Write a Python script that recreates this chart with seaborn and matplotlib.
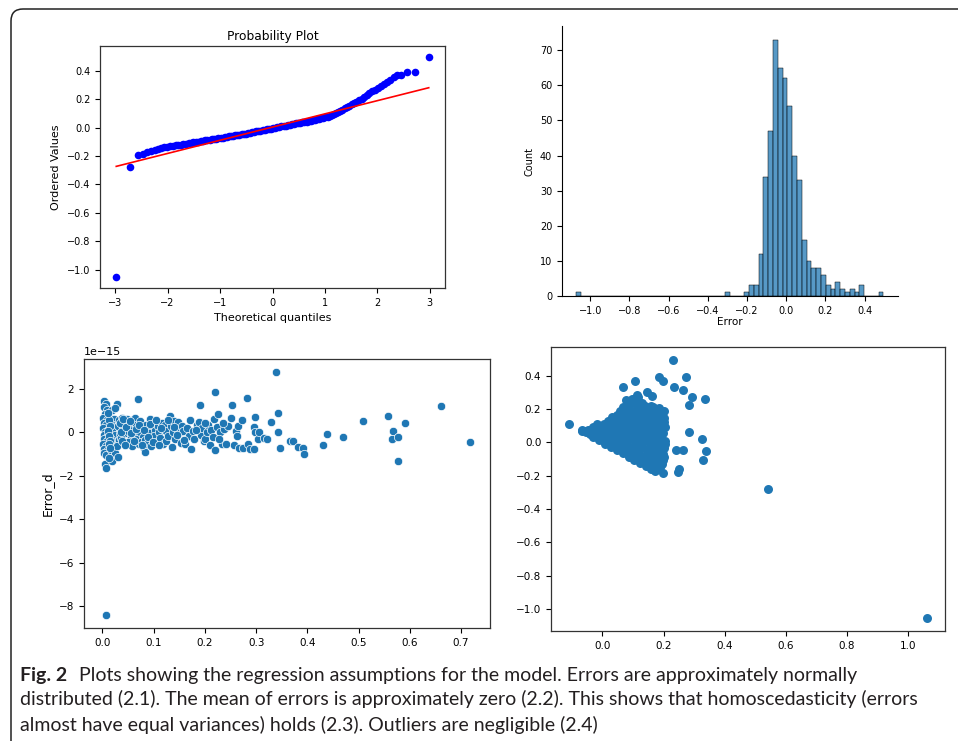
import numpy as np
import matplotlib.pyplot as plt
from matplotlib.patches import FancyBboxPatch
from matplotlib.transforms import IdentityTransform
import seaborn as sns

# ---------------- Data ----------------
# (2.1) probability plot: theoretical quantiles vs ordered residuals
qq_theoretical = [-2.98, -2.71, -2.57, -2.47, -2.39, -2.31, -2.24, -2.18, -2.12, -2.06,
                  -2.01, -1.95, -1.90, -1.85, -1.80, -1.75, -1.70, -1.65, -1.60, -1.55,
                  -1.51, -1.46, -1.42, -1.37, -1.33, -1.28, -1.24, -1.20, -1.16, -1.11,
                  -1.07, -1.03, -0.99, -0.95, -0.91, -0.87, -0.83, -0.79, -0.75, -0.71,
                  -0.67, -0.63, -0.59, -0.55, -0.51, -0.47, -0.43, -0.39, -0.35, -0.31,
                  -0.27, -0.23, -0.19, -0.15, -0.11, -0.07, -0.03, 0.01, 0.05, 0.09,
                  0.13, 0.17, 0.21, 0.25, 0.29, 0.33, 0.37, 0.41, 0.45, 0.49,
                  0.53, 0.57, 0.61, 0.65, 0.69, 0.73, 0.77, 0.81, 0.85, 0.89,
                  0.93, 0.97, 1.01, 1.05, 1.09, 1.13, 1.17, 1.21, 1.25, 1.29,
                  1.33, 1.38, 1.42, 1.46, 1.51, 1.55, 1.60, 1.65, 1.70, 1.75,
                  1.80, 1.85, 1.90, 1.95, 2.01, 2.06, 2.12, 2.18, 2.24, 2.31,
                  2.38, 2.46, 2.56, 2.72, 2.98]
qq_ordered = [-1.050, -0.280, -0.190, -0.183, -0.175, -0.166, -0.158, -0.152, -0.146, -0.140,
              -0.135, -0.131, -0.128, -0.125, -0.122, -0.119, -0.116, -0.112, -0.109, -0.106,
              -0.103, -0.100, -0.098, -0.095, -0.093, -0.090, -0.088, -0.085, -0.083, -0.080,
              -0.077, -0.075, -0.072, -0.070, -0.067, -0.065, -0.062, -0.060, -0.057, -0.055,
              -0.052, -0.050, -0.047, -0.045, -0.042, -0.039, -0.036, -0.033, -0.030, -0.027,
              -0.024, -0.021, -0.018, -0.015, -0.012, -0.010, -0.007, -0.004, -0.001, 0.002,
              0.005, 0.008, 0.011, 0.014, 0.017, 0.020, 0.023, 0.026, 0.029, 0.031,
              0.034, 0.037, 0.040, 0.043, 0.046, 0.049, 0.052, 0.055, 0.058, 0.061,
              0.065, 0.069, 0.073, 0.078, 0.084, 0.090, 0.097, 0.104, 0.112, 0.119,
              0.127, 0.137, 0.145, 0.153, 0.163, 0.172, 0.183, 0.194, 0.205, 0.216,
              0.228, 0.242, 0.256, 0.268, 0.282, 0.296, 0.310, 0.324, 0.338, 0.355,
              0.372, 0.372, 0.392, 0.392, 0.495]
qq_fit_x = [-2.98, 2.98]
qq_fit_y = [-0.273, 0.281]

# (2.2) histogram of errors: bin centres and counts of the non-empty bins
hist_centers = [-1.060, -0.301, -0.203, -0.178, -0.154, -0.129, -0.105, -0.080, -0.056, -0.031,
                -0.007, 0.018, 0.042, 0.067, 0.091, 0.116, 0.140, 0.165, 0.189, 0.214,
                0.238, 0.263, 0.287, 0.312, 0.336, 0.361, 0.385, 0.483]
hist_counts = [1, 1, 1, 3, 3, 12, 34, 47, 73, 65,
               62, 54, 40, 33, 16, 10, 8, 8, 6, 3,
               2, 4, 2, 1, 2, 1, 3, 1]
hist_range = (-1.0725, 0.4955)
hist_bins = 64

# (2.3) Error_d against fitted value (y in units of 1e-15)
homo_x = [0.004, 0.006, 0.003, 0.008, 0.005, 0.002, 0.009, 0.004, 0.007, 0.002, 0.010, 0.005, 0.003,
          0.008, 0.004, 0.009, 0.002, 0.006, 0.004, 0.008, 0.003, 0.007, 0.005, 0.006, 0.007,
          0.018, 0.022, 0.016, 0.026, 0.019, 0.024, 0.017, 0.027, 0.021, 0.016, 0.025, 0.019,
          0.028, 0.025, 0.030, 0.033, 0.031, 0.034, 0.032, 0.029,
          0.038, 0.042, 0.040, 0.045, 0.037, 0.043, 0.048, 0.052, 0.050, 0.055, 0.049, 0.057,
          0.058, 0.060,
          0.063, 0.066, 0.069, 0.064, 0.068, 0.071, 0.074, 0.077, 0.073, 0.079, 0.076, 0.081,
          0.084, 0.085, 0.088, 0.083, 0.087,
          0.092, 0.095, 0.091, 0.097, 0.094, 0.100, 0.103, 0.101, 0.106, 0.108, 0.111, 0.113,
          0.116, 0.118, 0.119,
          0.122, 0.125, 0.124, 0.128, 0.131, 0.133, 0.135, 0.137, 0.140, 0.142, 0.146, 0.148,
          0.152, 0.154, 0.156, 0.158,
          0.162, 0.165, 0.168, 0.170, 0.173, 0.176, 0.179, 0.185, 0.188, 0.190, 0.192, 0.195,
          0.198,
          0.201, 0.204, 0.207, 0.209, 0.212, 0.215, 0.217, 0.220, 0.220, 0.223, 0.226, 0.230,
          0.234, 0.238, 0.241, 0.245,
          0.250, 0.253, 0.257, 0.260, 0.262, 0.264, 0.267, 0.273, 0.274, 0.282, 0.284, 0.289,
          0.296, 0.297, 0.297, 0.296,
          0.303, 0.305, 0.316, 0.321, 0.329, 0.338, 0.343, 0.343, 0.347, 0.366, 0.371, 0.381,
          0.392, 0.394, 0.430, 0.438, 0.470, 0.508, 0.557, 0.565, 0.567, 0.576, 0.576, 0.591,
          0.661, 0.718,
          0.012, 0.014, 0.011, 0.013, 0.015, 0.012, 0.014, 0.011, 0.013,
          0.036, 0.039, 0.035, 0.041, 0.046, 0.044, 0.053, 0.056, 0.062, 0.065,
          0.072, 0.078, 0.082, 0.089, 0.093, 0.098, 0.104, 0.110, 0.115, 0.127,
          0.139, 0.145, 0.160, 0.183, 0.200, 0.228, 0.236]
homo_err = [1.45, 1.30, 1.18, 1.02, 0.85, 0.68, 0.58, 0.45, 0.32, 0.20, 0.12, 0.02, -0.10,
            -0.20, -0.32, -0.42, -0.52, -0.62, -0.75, -0.86, -0.95, -1.05, -1.45, -1.62, -8.37,
            1.02, 0.62, 0.40, 0.25, 0.05, -0.12, -0.30, -0.45, -0.60, -0.80, -0.95, -1.30,
            1.30, 1.14, -1.15, 0.55, 0.30, -0.08, -0.35, -0.62,
            0.68, 0.42, 0.15, -0.02, -0.25, -0.50, 0.60, 0.30, 0.05, -0.20, -0.45, -0.62,
            0.55, 0.12,
            0.65, 0.35, 1.54, -0.05, -0.30, -0.55, 0.50, 0.20, 0.00, -0.20, -0.45, -0.70,
            -0.91, 0.35, 0.05, -0.35, -0.55,
            0.60, 0.25, -0.05, -0.30, -0.62, 0.45, 0.10, -0.15, -0.45, 0.30, 0.00, -0.25,
            0.45, -0.55, 0.15,
            0.35, 0.05, -0.40, -0.15, 0.76, 0.30, -0.66, 0.00, 0.50, -0.30, 0.20, 0.47,
            0.00, -0.50, 0.30, 0.05,
            -0.53, 0.20, -0.15, 0.55, -0.76, 0.05, -0.30, 0.35, 0.47, 1.27, -0.10, 0.20,
            -0.40,
            -0.32, 0.00, 0.35, -0.56, 0.10, -0.20, 0.61, -0.82, 1.87, 0.25, 0.84, 0.02,
            -0.52, 0.15, -0.53, 0.30,
            0.65, 1.27, -0.56, 0.05, -0.17, 0.30, -0.70, 0.58, -0.72, 1.60, -0.53, -0.76,
            0.26, 0.69, 0.00, -0.78,
            -0.29, 0.03, -0.27, -0.32, 0.46, 2.79, 0.87, 0.02, -0.72, -0.38, -0.38, -0.66,
            -0.72, -0.98, -0.59, -0.08, -0.20, 0.53, 0.76, -0.32, 0.08, -0.20, -1.33, 0.43,
            1.20, -0.43,
            0.55, 0.30, 0.08, -0.15, -0.38, -0.55, -0.70, 0.90, -1.20,
            0.00, -0.40, 0.45, 0.60, 0.25, -0.60, 0.50, -0.05, -0.40, 0.15,
            0.35, -0.60, 0.10, -0.20, 0.40, -0.45, 0.55, -0.60, 0.20, 0.55,
            0.25, -0.10, -0.35, 0.10, 0.45, -0.30, 0.45]
ERR_UNIT = 1e-15

# (2.4) residual against leverage-like measure
out_x = [-0.109, -0.068, -0.053, 0.542, 1.062, 0.230, 0.272, 0.186, 0.199, 0.107, 0.069, 0.234,
         0.265, 0.292, 0.284, 0.334, 0.145, 0.161, 0.112, 0.080, 0.049, 0.284, 0.326, 0.339,
         0.330, 0.241, 0.265, 0.249, 0.246, 0.198, 0.172, 0.195, 0.195, 0.164,
         0.078, 0.098, 0.118, 0.108,
         0.066, 0.088, 0.112, 0.138, 0.158, 0.186, 0.200,
         0.047, 0.072, 0.097, 0.121, 0.146, 0.171, 0.196,
         0.018, 0.041, 0.063, 0.089, 0.113, 0.139, 0.163, 0.188, 0.203,
         -0.032, -0.008, 0.016, 0.039, 0.064, 0.087, 0.112, 0.136, 0.161, 0.184, 0.204,
         -0.066, -0.058, -0.040, -0.018, 0.006, 0.029, 0.053, 0.078, 0.101, 0.126, 0.149, 0.174, 0.198,
         -0.012, 0.009, 0.033, 0.058, 0.082, 0.107, 0.131, 0.156, 0.181, 0.206,
         0.028, 0.052, 0.077, 0.101, 0.126, 0.151, 0.176, 0.203,
         0.067, 0.091, 0.116, 0.141, 0.166, 0.198,
         0.103, 0.127, 0.152, 0.178, 0.199,
         0.142, 0.164, 0.188, 0.172,
         0.088, 0.128,
         0.058, 0.082, 0.108, 0.133, 0.158, 0.183,
         0.032, 0.054, 0.077, 0.101, 0.126, 0.151, 0.176, 0.200,
         -0.018, 0.004, 0.028, 0.052, 0.076, 0.100, 0.124, 0.149, 0.173, 0.195,
         -0.047, -0.022, 0.002, 0.026, 0.050, 0.074, 0.098, 0.122, 0.146, 0.170, 0.193,
         -0.030, -0.004, 0.020, 0.045, 0.070, 0.094, 0.118, 0.143, 0.168, 0.192,
         0.008, 0.032, 0.057, 0.081, 0.105, 0.130, 0.155, 0.180, 0.204,
         0.048, 0.072, 0.096, 0.121, 0.146, 0.171, 0.196,
         0.086, 0.110, 0.135, 0.160, 0.184, 0.203,
         0.124, 0.148, 0.172, 0.195,
         0.158, 0.178]
out_y = [0.110, 0.070, 0.064, -0.280, -1.056, 0.494, 0.392, 0.392, 0.370, 0.370, 0.330, 0.334,
         0.312, 0.270, 0.224, 0.258, 0.300, 0.278, 0.284, 0.244, 0.158, 0.064, 0.018, -0.052,
         -0.108, -0.046, -0.046, -0.162, -0.180, -0.186, -0.166, 0.184, 0.154, 0.214,
         0.252, 0.262, 0.270, 0.240,
         0.212, 0.220, 0.205, 0.215, 0.220, 0.205, 0.190,
         0.164, 0.172, 0.168, 0.175, 0.166, 0.178, 0.162,
         0.128, 0.135, 0.126, 0.132, 0.124, 0.136, 0.128, 0.134, 0.120,
         0.094, 0.088, 0.095, 0.086, 0.092, 0.085, 0.093, 0.087, 0.094, 0.086, 0.092,
         0.076, 0.068, 0.052, 0.048, 0.055, 0.046, 0.053, 0.047, 0.054, 0.045, 0.052, 0.046, 0.054,
         0.012, 0.006, 0.013, 0.004, 0.011, 0.005, 0.012, 0.004, 0.010, 0.006,
         -0.028, -0.034, -0.026, -0.033, -0.027, -0.035, -0.025, -0.032,
         -0.066, -0.073, -0.068, -0.074, -0.067, -0.072,
         -0.104, -0.112, -0.106, -0.113, -0.105,
         -0.143, -0.152, -0.146, -0.170,
         0.235, 0.238,
         0.190, 0.194, 0.188, 0.193, 0.190, 0.186,
         0.150, 0.148, 0.153, 0.147, 0.152, 0.149, 0.153, 0.147,
         0.108, 0.112, 0.107, 0.113, 0.108, 0.112, 0.107, 0.113, 0.108, 0.112,
         0.072, 0.068, 0.073, 0.067, 0.072, 0.068, 0.073, 0.067, 0.072, 0.068, 0.073,
         0.032, 0.028, 0.033, 0.027, 0.032, 0.028, 0.033, 0.027, 0.032, 0.028,
         -0.008, -0.012, -0.007, -0.013, -0.008, -0.012, -0.007, -0.013, -0.009,
         -0.048, -0.052, -0.047, -0.053, -0.048, -0.052, -0.050,
         -0.087, -0.092, -0.088, -0.093, -0.088, -0.090,
         -0.125, -0.131, -0.126, -0.130,
         -0.160, -0.158]

caption_lines = [
    "distributed (2.1). The mean of errors is approximately zero (2.2). This shows that homoscedasticity (errors",
    "almost have equal variances) holds (2.3). Outliers are negligible (2.4)",
]

# ---------------- Figure ----------------
W, H = 958, 741
fig = plt.figure(figsize=(W / 100, H / 100), dpi=100)


def px_axes(left, top, right, bottom):
    return fig.add_axes([left / W, 1 - bottom / H, (right - left) / W, (bottom - top) / H])


ax1 = px_axes(100, 46, 445, 288)
ax2 = px_axes(562, 26, 898, 296)
ax3 = px_axes(84, 359, 490, 628)
ax4 = px_axes(551, 347, 945, 631)

# 2.1 probability plot
sns.scatterplot(x=qq_theoretical, y=qq_ordered, color="blue", edgecolor="blue",
                linewidth=0, s=30, ax=ax1, zorder=2)
ax1.plot(qq_fit_x, qq_fit_y, color="red", lw=1.2, zorder=3)
ax1.set_xlim(-3.29, 3.29)
ax1.set_ylim(-1.13, 0.575)
ax1.set_xticks([-3, -2, -1, 0, 1, 2, 3])
ax1.set_yticks([-1.0, -0.8, -0.6, -0.4, -0.2, 0.0, 0.2, 0.4])
ax1.set_title("Probability Plot", fontsize=8.8, pad=4)
ax1.set_xlabel("Theoretical quantiles", fontsize=8)
ax1.set_ylabel("Ordered Values", fontsize=8)
ax1.tick_params(labelsize=7, width=0.8, length=3.5)

# 2.2 histogram
sns.histplot(x=hist_centers, weights=hist_counts, bins=hist_bins, binrange=hist_range, ax=ax2)
sns.despine(ax=ax2)
ax2.set_xlim(-1.144, 0.570)
ax2.set_ylim(0, 76.9)
ax2.set_xticks([-1.0, -0.8, -0.6, -0.4, -0.2, 0.0, 0.2, 0.4])
ax2.set_yticks([0, 10, 20, 30, 40, 50, 60, 70])
ax2.set_xlabel("Error", fontsize=7.5, labelpad=1)
ax2.set_ylabel("Count", fontsize=7)
ax2.tick_params(labelsize=7, width=0.8, length=3.5)

# 2.3 homoscedasticity
sns.scatterplot(x=homo_x, y=np.array(homo_err) * ERR_UNIT, s=36, ax=ax3)
ax3.set_xlim(-0.036, 0.7565)
ax3.set_ylim(-8.99e-15, 3.37e-15)
ax3.set_xticks([0.0, 0.1, 0.2, 0.3, 0.4, 0.5, 0.6, 0.7])
ax3.set_ylabel("Error_d", fontsize=9)
ax3.set_xlabel("")
ax3.tick_params(labelsize=7.5, width=0.8, length=3.5)
ax3.yaxis.get_offset_text().set_fontsize(8)

# 2.4 outliers
sns.scatterplot(x=out_x, y=out_y, s=42, linewidth=0, ax=ax4)
ax4.set_xlim(-0.168, 1.12)
ax4.set_ylim(-1.133, 0.572)
ax4.set_xticks([0.0, 0.2, 0.4, 0.6, 0.8, 1.0])
ax4.set_yticks([-1.0, -0.8, -0.6, -0.4, -0.2, 0.0, 0.2, 0.4])
ax4.tick_params(labelsize=7.5, width=0.8, length=3.5)

for ax in (ax1, ax3, ax4):
    for sp in ax.spines.values():
        sp.set_linewidth(0.9)
        sp.set_color("#333333")

# rounded frame round the figure panel
frame = FancyBboxPatch((11, -60), 1000, H - 9 + 60, boxstyle="round,pad=0,rounding_size=12",
                       transform=IdentityTransform(), fill=False, edgecolor="#222222", lw=1.1)
fig.patches.append(frame)

# caption
cap_font = "Lato"
cap_size = 14
fig.text(20 / W, 1 - 680.5 / H, "Fig. 2", fontsize=cap_size, fontweight="bold",
         family=cap_font, color="#231f20", va="baseline")
fig.text(79 / W, 1 - 680.5 / H,
         "Plots showing the regression assumptions for the model. Errors are approximately normally",
         fontsize=cap_size, family=cap_font, color="#231f20", va="baseline")
for i, line in enumerate(caption_lines):
    fig.text(20 / W, 1 - (705.5 + 25 * i) / H, line, fontsize=cap_size, family=cap_font,
             color="#231f20", va="baseline")

fig.savefig("out.png", dpi=100)
